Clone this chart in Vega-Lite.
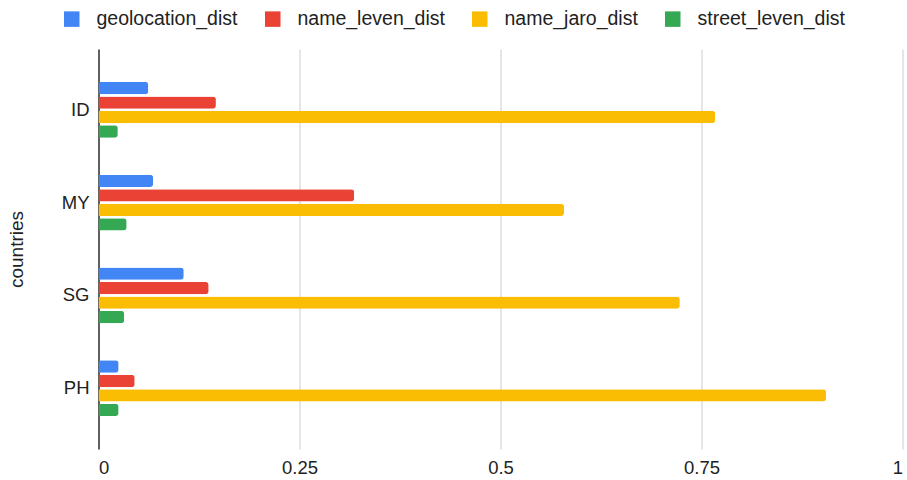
{
  "$schema": "https://vega.github.io/schema/vega-lite/v6.json",
  "autosize": {"type": "none"},
  "width": 804,
  "height": 400,
  "padding": {"left": 98.5, "top": 49, "right": 4.5, "bottom": 31},
  "config": {
    "font": "Liberation Sans",
    "view": {"stroke": null},
    "axis": {"labelFont": "Liberation Sans", "titleFont": "Liberation Sans", "labelColor": "#222222", "titleColor": "#222222", "titleFontWeight": "normal"},
    "legend": {"labelFont": "Liberation Sans", "labelColor": "#222222"}
  },
  "data": {
    "values": [
      {"country": "ID", "metric": "geolocation_dist", "value": 0.062},
      {"country": "ID", "metric": "name_leven_dist", "value": 0.146},
      {"country": "ID", "metric": "name_jaro_dist", "value": 0.767},
      {"country": "ID", "metric": "street_leven_dist", "value": 0.024},
      {"country": "MY", "metric": "geolocation_dist", "value": 0.068},
      {"country": "MY", "metric": "name_leven_dist", "value": 0.318},
      {"country": "MY", "metric": "name_jaro_dist", "value": 0.579},
      {"country": "MY", "metric": "street_leven_dist", "value": 0.035},
      {"country": "SG", "metric": "geolocation_dist", "value": 0.106},
      {"country": "SG", "metric": "name_leven_dist", "value": 0.137},
      {"country": "SG", "metric": "name_jaro_dist", "value": 0.723},
      {"country": "SG", "metric": "street_leven_dist", "value": 0.032},
      {"country": "PH", "metric": "geolocation_dist", "value": 0.025},
      {"country": "PH", "metric": "name_leven_dist", "value": 0.045},
      {"country": "PH", "metric": "name_jaro_dist", "value": 0.905},
      {"country": "PH", "metric": "street_leven_dist", "value": 0.025}
    ]
  },
  "mark": {"type": "bar", "cornerRadiusEnd": 3},
  "encoding": {
    "y": {
      "field": "country",
      "type": "nominal",
      "sort": ["ID", "MY", "SG", "PH"],
      "scale": {"paddingInner": 0.4, "paddingOuter": 0.355},
      "axis": {
        "title": "countries",
        "titleFontSize": 19,
        "titlePadding": 35,
        "labelFontSize": 18.5,
        "labelPadding": 9.5,
        "ticks": false,
        "domain": true,
        "domainColor": "#333333",
        "domainWidth": 1.5,
        "grid": false
      }
    },
    "yOffset": {
      "field": "metric",
      "type": "nominal",
      "sort": ["geolocation_dist", "name_leven_dist", "name_jaro_dist", "street_leven_dist"],
      "scale": {"paddingInner": 0.15}
    },
    "x": {
      "field": "value",
      "type": "quantitative",
      "scale": {"domain": [0, 1], "nice": false},
      "axis": {
        "title": null,
        "values": [0, 0.25, 0.5, 0.75, 1],
        "format": ".2~f",
        "labelFontSize": 18.5,
        "labelPadding": 9,
        "ticks": false,
        "domain": false,
        "grid": true,
        "gridColor": "#cccccc",
        "zindex": 0
      }
    },
    "color": {
      "field": "metric",
      "type": "nominal",
      "sort": ["geolocation_dist", "name_leven_dist", "name_jaro_dist", "street_leven_dist"],
      "scale": {
        "domain": ["geolocation_dist", "name_leven_dist", "name_jaro_dist", "street_leven_dist"],
        "range": ["#4285F4", "#EA4335", "#FBBC04", "#34A853"]
      },
      "legend": {
        "title": null,
        "orient": "none",
        "legendX": -36.5,
        "legendY": -40,
        "direction": "horizontal",
        "symbolType": "square",
        "symbolSize": 240,
        "symbolStrokeWidth": 0,
        "symbolOpacity": 1,
        "labelFontSize": 19.5,
        "labelOffset": 15,
        "columnPadding": 25
      }
    }
  }
}
